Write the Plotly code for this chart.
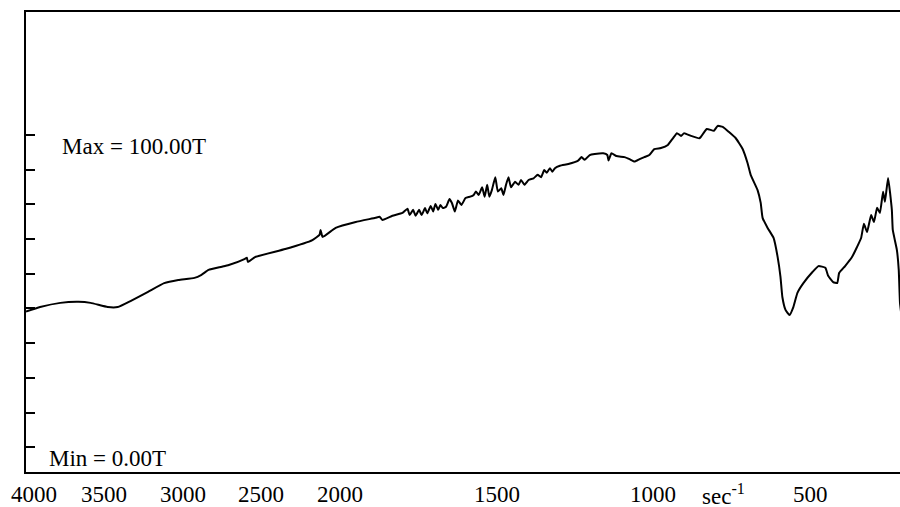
import numpy as np
import plotly.graph_objects as go

# wavenumber (cm-1) and transmittance readings
wavenumber = [4000, 3910, 3781, 3666, 3588, 3479, 3415, 3331, 3222, 3119, 3029, 2926, 2881, 2836, 2752, 2707,
              2604, 2592, 2585, 2540, 2347, 2174, 2129, 2122, 2109, 2026,
              1949, 1886, 1873, 1864, 1832, 1800, 1784,
              1777, 1766, 1758, 1747, 1739, 1728, 1721, 1710, 1702, 1695, 1686, 1679, 1671, 1661, 1650,
              1642, 1633, 1623, 1612, 1599, 1584, 1573, 1566, 1557, 1546, 1538, 1530, 1523, 1515, 1504,
              1496, 1485, 1478, 1470, 1462, 1454, 1441, 1430, 1422, 1411, 1398, 1382, 1369, 1358, 1348,
              1340, 1330, 1322, 1314, 1298, 1271, 1240, 1229, 1219, 1203, 1187, 1160, 1147, 1143, 1134,
              1118, 1092, 1076, 1060, 1044, 1029, 1013, 997, 976, 954, 938, 925, 912, 902, 880, 854,
              849, 830, 807, 795, 779, 760, 738, 716, 700, 690,
              668, 658, 652, 636, 617, 604, 595, 589, 579, 566, 554, 541, 522, 493, 474, 452, 443, 427,
              414, 408, 389, 367, 351, 338, 329, 319, 306, 297, 287, 278, 268, 262, 252, 240, 237, 224,
              218, 214, 205]
transmittance = [49.1, 50.4, 51.6, 51.9, 51.6, 50.4, 50.4, 52.2, 54.8, 57.3, 58.2, 58.8, 59.7, 61.1, 62.0, 62.5,
                 64.3, 64.6, 63.4, 64.8, 67.1, 69.7, 71.2, 72.6, 70.6, 73.2,
                 74.9, 76.1, 76.4, 75.5, 76.7, 77.5, 78.7,
                 76.9, 78.4, 76.7, 78.4, 76.9, 78.9, 77.4, 79.5, 77.9, 80.1, 78.4, 79.8, 78.9, 79.3, 81.5,
                 80.3, 77.9, 81.1, 79.8, 81.8, 82.2, 82.7, 83.7, 82.7, 84.9, 82.2, 85.6, 82.2, 84.1, 87.8,
                 83.7, 84.6, 82.7, 85.6, 87.8, 84.9, 86.5, 85.6, 87.0, 85.6, 87.0, 87.5, 88.5, 87.8, 89.9,
                 89.1, 90.4, 89.4, 90.4, 91.1, 91.6, 92.6, 93.6, 92.8, 94.2, 94.5, 94.7, 94.2, 92.6, 94.7,
                 93.9, 93.6, 93.0, 92.3, 93.0, 93.6, 94.2, 95.9, 96.2, 97.1, 99.0, 100.5, 99.7, 100.5, 99.7, 99.0,
                 99.4, 101.7, 101.2, 102.6, 102.3, 100.9, 99.1, 96.0, 91.9, 88.5,
                 84.1, 80.4, 76.1, 73.2, 70.3, 64.8, 59.1, 53.3, 49.6, 48.1, 50.4, 54.5, 57.3, 60.5, 62.2, 61.7, 59.4, 57.6,
                 57.3, 60.2, 62.2, 64.8, 67.7, 70.3, 74.4, 72.0, 76.9, 74.9, 79.0, 77.5, 83.6, 80.7, 87.6, 78.4, 72.6, 66.9,
                 61.1, 51.6, 45.0]

tick_values = [4000, 3500, 3000, 2500, 2000, 1500, 1000, 500]
tick_labels = ["4000", "3500", "3000", "2500", "2000", "1500", "1000", "500"]
y_ticks = [10, 20, 30, 40, 50, 60, 70, 80, 90, 100]
max_label = "Max = 100.00T"
min_label = "Min = 0.00T"
unit_label = "sec<sup>-1</sup>"


def to_axis(x):
    """IR-style axis with half scale above 2000 cm-1."""
    x = np.asarray(x, dtype=float)
    return np.where(x >= 2000, (4000 - x) / 2.0, 1000 + (2000 - x))


FONT = "Liberation Serif, Times New Roman, serif"
FS = 23

fig = go.Figure()
fig.add_trace(go.Scatter(x=to_axis(wavenumber), y=transmittance, mode="lines",
                         line=dict(color="black", width=2, shape="spline", smoothing=0.4),
                         hoverinfo="skip", showlegend=False))

x_lo, x_hi = float(to_axis(4000)), float(to_axis(214))

annotations = []
for v, t in zip(tick_values, tick_labels):
    annotations.append(dict(x=float(to_axis(v)), y=0, xref="x", yref="paper", text=t,
                            showarrow=False, yanchor="top", xanchor="center", yshift=-8,
                            xshift=8 if v == 4000 else 0,
                            font=dict(family=FONT, size=FS, color="black")))
annotations.append(dict(x=(723 - 26) / 874, y=0, xref="paper", yref="paper", text=unit_label,
                        showarrow=False, yanchor="top", xanchor="center", yshift=-6,
                        font=dict(family=FONT, size=FS, color="black")))
annotations.append(dict(x=(60 - 26) / 874, y=100, xref="paper", yref="y", text=max_label,
                        showarrow=False, xanchor="left", yanchor="middle", yshift=-12,
                        font=dict(family=FONT, size=FS, color="black")))
annotations.append(dict(x=(47 - 26) / 874, y=0, xref="paper", yref="paper", text=min_label,
                        showarrow=False, xanchor="left", yanchor="bottom", yshift=-1,
                        font=dict(family=FONT, size=FS, color="black")))

fig.update_layout(
    width=900, height=507,
    margin=dict(l=26, r=0, t=12, b=35),
    paper_bgcolor="white", plot_bgcolor="white",
    showlegend=False,
    annotations=annotations,
    xaxis=dict(range=[x_lo, x_hi], showgrid=False, zeroline=False, showticklabels=False,
               ticks="", showline=True, linecolor="black", linewidth=2, mirror=True),
    yaxis=dict(range=[2.88, 135.4], showgrid=False, zeroline=False, showticklabels=False,
               tickvals=y_ticks, ticks="inside", ticklen=9, tickwidth=1.5, tickcolor="black",
               showline=True, linecolor="black", linewidth=2, mirror=False),
)

fig.write_html("out.html", config={"displayModeBar": False},
               post_script="document.body.style.margin='0';document.body.style.overflow='hidden';")
